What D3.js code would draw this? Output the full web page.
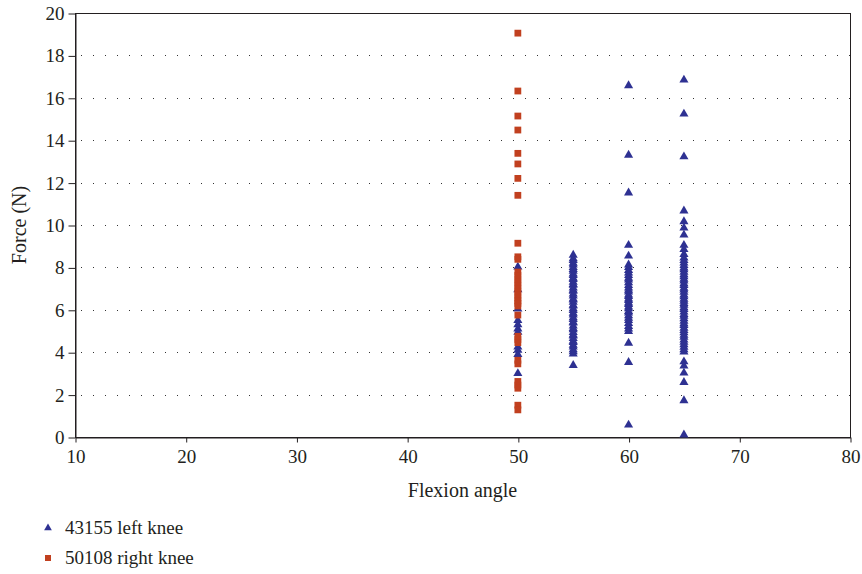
<!DOCTYPE html>
<html>
<head>
<meta charset="utf-8">
<script src="https://cdn.jsdelivr.net/npm/d3@7"></script>
<style>
  body { margin: 0; background: #fff; }
  svg text { font-family: "Liberation Serif", "DejaVu Serif", serif; fill: #231f20; }
</style>
</head>
<body>
<div id="chart"></div>
<script>
// series names
const seriesNames = ["43155 left knee", "50108 right knee"];

// 43155 left knee, force (N) per flexion angle
const leftForce50 = [8.02, 6.95, 6.04, 5.5, 5.3, 5.1, 4.95, 4.25, 4.1, 3.9, 3.0];
const leftForce55 = [8.58, 8.41, 8.33, 8.2, 8.12, 8.0, 7.91, 7.83, 7.7, 7.62, 7.5, 7.44, 7.31, 7.2,
  7.16, 7.04, 6.93, 6.88, 6.75, 6.66, 6.52, 6.47, 6.36, 6.22, 6.18, 6.05, 5.97, 5.84, 5.76,
  5.63, 5.55, 5.42, 5.38, 5.24, 5.13, 5.06, 4.94, 4.82, 4.77, 4.65, 4.52, 4.46, 4.33, 4.25,
  4.12, 4.03, 3.92, 3.38];
const leftForce60 = [16.58, 13.3, 11.52, 9.05, 8.54, 8.12, 8.0, 7.86, 7.74, 7.62, 7.5, 7.41, 7.28,
  7.15, 7.04, 6.93, 6.84, 6.71, 6.63, 6.52, 6.44, 6.33, 6.26, 6.14, 6.05, 5.93, 5.86, 5.72,
  5.61, 5.5, 5.36, 5.22, 5.1, 4.98, 4.43, 3.52, 0.57];
const leftForce65 = [16.84, 15.24, 13.22, 10.67, 10.16, 9.86, 9.53, 9.05, 8.85, 8.62, 8.45, 8.33,
  8.21, 8.1, 7.98, 7.9, 7.78, 7.66, 7.57, 7.45, 7.36, 7.24, 7.15, 7.02, 6.94, 6.83, 6.71,
  6.62, 6.5, 6.41, 6.3, 6.22, 6.1, 6.02, 5.9, 5.78, 5.7, 5.58, 5.47, 5.35, 5.26, 5.14, 5.03,
  4.92, 4.8, 4.71, 4.58, 4.47, 4.36, 4.24, 4.12, 4.02, 3.55, 3.35, 3.02, 2.58, 1.72, 0.1];

// 50108 right knee, force (N) at 50 degrees
const rightForce50 = [19.05, 16.32, 15.14, 14.48, 13.38, 12.88, 12.2, 11.4, 9.14, 8.5, 8.38, 7.78,
  7.62, 7.45, 7.3, 7.15, 7.0, 6.85, 6.7, 6.55, 6.42, 6.3, 6.18, 5.75, 4.75, 4.6, 4.45, 3.62,
  3.45, 2.62, 2.45, 2.3, 1.5, 1.28];

// axis ticks
const xTicks = [10, 20, 30, 40, 50, 60, 70, 80];
const yTicks = [0, 2, 4, 6, 8, 10, 12, 14, 16, 18, 20];

const leftPoints = []
  .concat(leftForce50.map(f => ({angle: 50, force: f})))
  .concat(leftForce55.map(f => ({angle: 55, force: f})))
  .concat(leftForce60.map(f => ({angle: 60, force: f})))
  .concat(leftForce65.map(f => ({angle: 65, force: f})));
const rightPoints = rightForce50.map(f => ({angle: 50, force: f}));

const width = 862, height = 574;
const margin = {top: 13, right: 12, bottom: 137, left: 75};
const blue = "#2e3192", red = "#c1401f";

const svg = d3.select("#chart").append("svg")
  .attr("width", width)
  .attr("height", height);

const x = d3.scaleLinear().domain([10, 80]).range([margin.left, width - margin.right]);
const y = d3.scaleLinear().domain([0, 20]).range([height - margin.bottom, margin.top]);

// dotted gridlines
svg.append("g").attr("class", "grid")
  .selectAll("line")
  .data(yTicks.filter(d => d > 0 && d < 20))
  .enter().append("line")
  .attr("x1", x(10)).attr("x2", x(80))
  .attr("y1", d => Math.round(y(d)) + 0.5).attr("y2", d => Math.round(y(d)) + 0.5)
  .attr("stroke", "#333")
  .attr("stroke-width", 1)
  .attr("stroke-dasharray", "1,11")
  .attr("stroke-dashoffset", -6);

// frame
svg.append("rect")
  .attr("x", x(10) + 0.5).attr("y", y(20) + 0.5)
  .attr("width", x(80) - x(10)).attr("height", y(0) - y(20))
  .attr("fill", "none").attr("stroke", "#231f20").attr("stroke-width", 1);

// axes
const xAxis = svg.append("g")
  .attr("transform", `translate(0.5,${Math.round(y(0)) + 0.5})`)
  .call(d3.axisBottom(x).tickValues(xTicks).tickSize(5).tickSizeOuter(0).tickPadding(7));
const yAxis = svg.append("g")
  .attr("transform", `translate(${Math.round(x(10)) + 0.5},0.5)`)
  .call(d3.axisLeft(y).tickValues(yTicks).tickSize(7).tickSizeOuter(0).tickPadding(4));

[xAxis, yAxis].forEach(a => {
  a.select(".domain").attr("stroke", "#231f20");
  a.selectAll(".tick line").attr("stroke", "#231f20");
  a.selectAll(".tick text")
    .attr("font-family", "Liberation Serif, DejaVu Serif, serif")
    .attr("font-size", "19px")
    .attr("fill", "#231f20");
});

// axis titles
svg.append("text")
  .attr("x", (x(10) + x(80)) / 2)
  .attr("y", 497)
  .attr("text-anchor", "middle")
  .attr("font-size", "20px")
  .text("Flexion angle");

svg.append("text")
  .attr("transform", `translate(26,${(y(0) + y(20)) / 2}) rotate(-90)`)
  .attr("text-anchor", "middle")
  .attr("font-size", "20px")
  .text("Force (N)");

const tri = d3.symbol().type(d3.symbolTriangle).size(36);
const sq = d3.symbol().type(d3.symbolSquare).size(46);

// points
svg.append("g").attr("class", "left")
  .selectAll("path")
  .data(leftPoints)
  .enter().append("path")
  .attr("transform", d => `translate(${x(d.angle)},${y(d.force)})`)
  .attr("d", tri)
  .attr("fill", blue);

svg.append("g").attr("class", "right")
  .selectAll("path")
  .data(rightPoints)
  .enter().append("path")
  .attr("transform", d => `translate(${x(d.angle)},${y(d.force)})`)
  .attr("d", sq)
  .attr("fill", red);

// legend
const legend = svg.append("g").attr("class", "legend");
const legendItems = legend.selectAll("g")
  .data(seriesNames)
  .enter().append("g")
  .attr("transform", (d, i) => `translate(48,${528 + i * 30})`);

legendItems.append("path")
  .attr("d", (d, i) => i === 0 ? d3.symbol().type(d3.symbolTriangle).size(26)() : d3.symbol().type(d3.symbolSquare).size(36)())
  .attr("fill", (d, i) => i === 0 ? blue : red);

legendItems.append("text")
  .attr("x", 17)
  .attr("y", 6)
  .attr("font-size", "19px")
  .text(d => d);
</script>
</body>
</html>
